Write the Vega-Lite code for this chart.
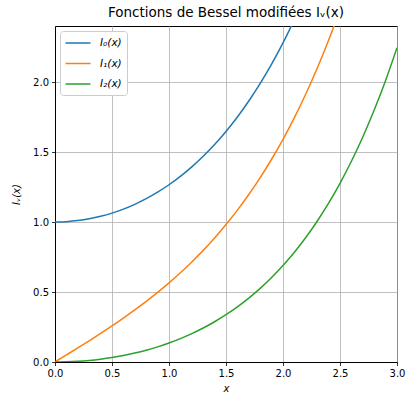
{
  "$schema": "https://vega.github.io/schema/vega-lite/v6.json",
  "autosize": "none",
  "padding": {"left": 55, "top": 26, "right": 9, "bottom": 33},
  "width": 342,
  "height": 336,
  "title": {"text": "Fonctions de Bessel modifiées Iᵥ(x)", "fontSize": 13.5, "fontWeight": "normal", "font": "DejaVu Sans", "offset": 7, "color": "#000000"},
  "config": {
    "font": "DejaVu Sans",
    "view": {"stroke": "#000000", "strokeWidth": 1},
    "axis": {
      "domainColor": "#000000", "tickColor": "#000000", "tickSize": 3.5, "tickWidth": 0.8,
      "labelFontSize": 10, "labelColor": "#000000", "titleFontSize": 10, "titleFontWeight": "normal",
      "titleColor": "#000000", "titleFontStyle": "italic", "gridColor": "#b0b0b0", "gridWidth": 0.8, "gridOpacity": 1,
      "labelFlush": false
    }
  },
  "data": {"values": [
    {"x": 0.0, "y": 1.0, "s": "I₀(x)"},
    {"x": 0.1, "y": 1.0025, "s": "I₀(x)"},
    {"x": 0.2, "y": 1.0100, "s": "I₀(x)"},
    {"x": 0.3, "y": 1.0226, "s": "I₀(x)"},
    {"x": 0.4, "y": 1.0404, "s": "I₀(x)"},
    {"x": 0.5, "y": 1.0635, "s": "I₀(x)"},
    {"x": 0.6, "y": 1.0920, "s": "I₀(x)"},
    {"x": 0.7, "y": 1.1263, "s": "I₀(x)"},
    {"x": 0.8, "y": 1.1665, "s": "I₀(x)"},
    {"x": 0.9, "y": 1.2130, "s": "I₀(x)"},
    {"x": 1.0, "y": 1.2661, "s": "I₀(x)"},
    {"x": 1.1, "y": 1.3262, "s": "I₀(x)"},
    {"x": 1.2, "y": 1.3937, "s": "I₀(x)"},
    {"x": 1.3, "y": 1.4693, "s": "I₀(x)"},
    {"x": 1.4, "y": 1.5534, "s": "I₀(x)"},
    {"x": 1.5, "y": 1.6467, "s": "I₀(x)"},
    {"x": 1.6, "y": 1.7500, "s": "I₀(x)"},
    {"x": 1.7, "y": 1.8640, "s": "I₀(x)"},
    {"x": 1.8, "y": 1.9896, "s": "I₀(x)"},
    {"x": 1.9, "y": 2.1277, "s": "I₀(x)"},
    {"x": 2.0, "y": 2.2796, "s": "I₀(x)"},
    {"x": 2.1, "y": 2.4463, "s": "I₀(x)"},
    {"x": 2.2, "y": 2.6291, "s": "I₀(x)"},
    {"x": 0.0, "y": 0.0, "s": "I₁(x)"},
    {"x": 0.1, "y": 0.0501, "s": "I₁(x)"},
    {"x": 0.2, "y": 0.1005, "s": "I₁(x)"},
    {"x": 0.3, "y": 0.1517, "s": "I₁(x)"},
    {"x": 0.4, "y": 0.2040, "s": "I₁(x)"},
    {"x": 0.5, "y": 0.2579, "s": "I₁(x)"},
    {"x": 0.6, "y": 0.3137, "s": "I₁(x)"},
    {"x": 0.7, "y": 0.3719, "s": "I₁(x)"},
    {"x": 0.8, "y": 0.4329, "s": "I₁(x)"},
    {"x": 0.9, "y": 0.4971, "s": "I₁(x)"},
    {"x": 1.0, "y": 0.5652, "s": "I₁(x)"},
    {"x": 1.1, "y": 0.6375, "s": "I₁(x)"},
    {"x": 1.2, "y": 0.7147, "s": "I₁(x)"},
    {"x": 1.3, "y": 0.7973, "s": "I₁(x)"},
    {"x": 1.4, "y": 0.8861, "s": "I₁(x)"},
    {"x": 1.5, "y": 0.9817, "s": "I₁(x)"},
    {"x": 1.6, "y": 1.0848, "s": "I₁(x)"},
    {"x": 1.7, "y": 1.1963, "s": "I₁(x)"},
    {"x": 1.8, "y": 1.3172, "s": "I₁(x)"},
    {"x": 1.9, "y": 1.4482, "s": "I₁(x)"},
    {"x": 2.0, "y": 1.5906, "s": "I₁(x)"},
    {"x": 2.1, "y": 1.7455, "s": "I₁(x)"},
    {"x": 2.2, "y": 1.9141, "s": "I₁(x)"},
    {"x": 2.3, "y": 2.0978, "s": "I₁(x)"},
    {"x": 2.4, "y": 2.2981, "s": "I₁(x)"},
    {"x": 2.5, "y": 2.5167, "s": "I₁(x)"},
    {"x": 2.6, "y": 2.7554, "s": "I₁(x)"},
    {"x": 0.0, "y": 0.0, "s": "I₂(x)"},
    {"x": 0.1, "y": 0.00125, "s": "I₂(x)"},
    {"x": 0.2, "y": 0.00502, "s": "I₂(x)"},
    {"x": 0.3, "y": 0.01133, "s": "I₂(x)"},
    {"x": 0.4, "y": 0.02027, "s": "I₂(x)"},
    {"x": 0.5, "y": 0.03191, "s": "I₂(x)"},
    {"x": 0.6, "y": 0.04637, "s": "I₂(x)"},
    {"x": 0.7, "y": 0.06379, "s": "I₂(x)"},
    {"x": 0.8, "y": 0.08435, "s": "I₂(x)"},
    {"x": 0.9, "y": 0.10826, "s": "I₂(x)"},
    {"x": 1.0, "y": 0.13575, "s": "I₂(x)"},
    {"x": 1.1, "y": 0.16709, "s": "I₂(x)"},
    {"x": 1.2, "y": 0.20260, "s": "I₂(x)"},
    {"x": 1.3, "y": 0.24262, "s": "I₂(x)"},
    {"x": 1.4, "y": 0.28755, "s": "I₂(x)"},
    {"x": 1.5, "y": 0.33783, "s": "I₂(x)"},
    {"x": 1.6, "y": 0.39397, "s": "I₂(x)"},
    {"x": 1.7, "y": 0.45650, "s": "I₂(x)"},
    {"x": 1.8, "y": 0.52604, "s": "I₂(x)"},
    {"x": 1.9, "y": 0.60327, "s": "I₂(x)"},
    {"x": 2.0, "y": 0.68895, "s": "I₂(x)"},
    {"x": 2.1, "y": 0.78390, "s": "I₂(x)"},
    {"x": 2.2, "y": 0.88906, "s": "I₂(x)"},
    {"x": 2.3, "y": 1.00543, "s": "I₂(x)"},
    {"x": 2.4, "y": 1.13415, "s": "I₂(x)"},
    {"x": 2.5, "y": 1.27647, "s": "I₂(x)"},
    {"x": 2.6, "y": 1.43373, "s": "I₂(x)"},
    {"x": 2.7, "y": 1.60749, "s": "I₂(x)"},
    {"x": 2.8, "y": 1.79939, "s": "I₂(x)"},
    {"x": 2.9, "y": 2.01129, "s": "I₂(x)"},
    {"x": 3.0, "y": 2.24521, "s": "I₂(x)"}
  ]},
  "mark": {"type": "line", "clip": true, "strokeWidth": 1.5, "interpolate": "monotone"},
  "encoding": {
    "x": {"field": "x", "type": "quantitative", "scale": {"domain": [0, 3], "nice": false},
      "axis": {"title": "x", "values": [0, 0.5, 1, 1.5, 2, 2.5, 3], "format": ".1f", "titlePadding": 5, "labelPadding": 3}},
    "y": {"field": "y", "type": "quantitative", "scale": {"domain": [0, 2.4], "nice": false},
      "axis": {"title": "Iᵥ(x)", "values": [0, 0.5, 1, 1.5, 2], "format": ".1f", "titlePadding": 11, "labelPadding": 3}},
    "color": {"field": "s", "type": "nominal",
      "scale": {"domain": ["I₀(x)", "I₁(x)", "I₂(x)"], "range": ["#1f77b4", "#ff7f0e", "#2ca02c"]},
      "legend": {"title": null, "orient": "top-left", "offset": 5, "symbolType": "M-2,0H2", "symbolSize": 156,
        "symbolStrokeWidth": 1.5, "symbolOffset": 6, "labelFontSize": 10.5, "labelFontStyle": "italic", "labelColor": "#000000",
        "fillColor": "#ffffff", "strokeColor": "#cccccc", "cornerRadius": 3, "padding": 5, "rowPadding": 7.5, "labelOffset": 15}}
  }
}
